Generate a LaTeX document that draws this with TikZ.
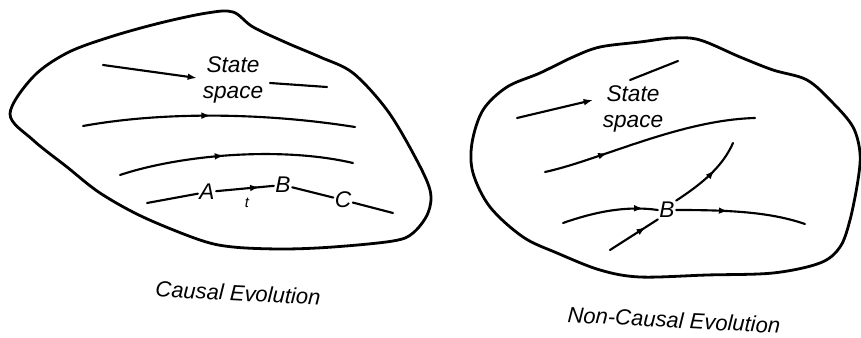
\documentclass[tikz,border=0pt]{standalone}
\usepackage{fontspec}
\setmainfont{Liberation Sans}
\usetikzlibrary{arrows.meta,decorations.markings}

\begin{document}
\begin{tikzpicture}[x=0.75pt,y=-0.75pt,
            blob/.style={line width=2.1pt,line join=round},
            flow/.style={line width=1.6pt,line cap=round},
            tip/.style={-{Latex[length=7pt,width=5pt]}},
            midarrow/.style={postaction={decorate},decoration={markings,mark=at position #1 with {\arrow{Latex[length=7pt,width=5pt]}}}},
            lbl/.style={font=\itshape\fontsize{17}{19}\selectfont,inner sep=1pt},
            caption/.style={font=\itshape\fontsize{16.5}{16.5}\selectfont,rotate=-3}]
            \useasboundingbox (0,0) rectangle (861,338);
            % causal state space
            \draw[blob] plot[smooth cycle,tension=0.55] coordinates {(10,114) (33,77) (67,53) (110,37) (160,23) (207,13) (233,12) (253,27) (287,43) (320,57) (353,73) (387,110) (414,155) (430,190) (428,213) (413,233) (393,241) (333,247) (283,249) (233,247) (200,240) (143,217) (100,193) (67,167) (33,140)};
            \node[lbl,align=center] (ssL) at (233,80) {State\\space};
            \coordinate (l1a) at (103,65);
            \coordinate (l1b) at (197,78);
            \coordinate (l1c) at (270,83);
            \coordinate (l1d) at (327,87);
            \draw[flow,tip] (l1a) -- (l1b);
            \draw[flow] (l1c) -- (l1d);
            \coordinate (l2a) at (83,126);
            \coordinate (l2b) at (355,127);
            \draw[flow,midarrow=0.47] (l2a) .. controls (160,112) and (260,112) .. (l2b);
            \coordinate (l3a) at (120,175);
            \coordinate (l3b) at (353,163);
            \draw[flow,midarrow=0.45] (l3a) .. controls (180,155) and (280,146) .. (l3b);
            \node[lbl] (A) at (207,192) {A};
            \node[lbl] (B) at (283,185) {B};
            \node[lbl] (C) at (343,200) {C};
            \node[lbl,font=\itshape\fontsize{11}{11}\selectfont] (t) at (247,203) {t};
            \coordinate (l4a) at (147,203);
            \coordinate (l4b) at (393,213);
            \draw[flow] (l4a) -- (A);
            \draw[flow,midarrow=0.75] (A) -- (B);
            \draw[flow] (B) -- (C);
            \draw[flow] (C) -- (l4b);
            \node[caption] (capL) at (238,293) {Causal Evolution};
            % non-causal state space
            \draw[blob] plot[smooth cycle,tension=0.55] coordinates {(472,143) (483,110) (507,87) (540,73) (573,57) (600,47) (640,42) (673,38) (700,40) (740,57) (773,70) (807,80) (833,103) (853,127) (860,153) (858,180) (850,220) (840,247) (820,263) (773,273) (707,275) (640,277) (600,270) (557,253) (523,237) (490,207) (473,173)};
            \node[lbl,align=center] (ssR) at (633,109) {State\\space};
            \coordinate (r1a) at (517,118);
            \coordinate (r1b) at (593,100);
            \coordinate (r2a) at (630,80);
            \coordinate (r2b) at (678,61);
            \draw[flow,tip] (r1a) -- (r1b);
            \draw[flow] (r2a) -- (r2b);
            \coordinate (r3a) at (545,172);
            \coordinate (r3b) at (755,118);
            \draw[flow,midarrow=0.3] (r3a) .. controls (600,160) and (680,120) .. (r3b);
            \node[lbl] (B2) at (667,210) {B};
            \coordinate (r4a) at (563,223);
            \coordinate (r4b) at (805,224);
            \coordinate (r5a) at (610,250);
            \coordinate (r6b) at (733,143);
            \draw[flow,midarrow=0.85] (r4a) .. controls (600,210) and (630,206) .. (B2.west);
            \draw[flow,midarrow=0.4] (B2.east) .. controls (730,210) and (770,212) .. (r4b);
            \draw[flow,midarrow=0.75] (r5a) -- (B2.south west);
            \draw[flow,midarrow=0.6] (B2.north east) .. controls (700,185) and (722,168) .. (r6b);
            \node[caption] (capR) at (674,320) {Non-Causal Evolution};
        \end{tikzpicture}
\end{document}
